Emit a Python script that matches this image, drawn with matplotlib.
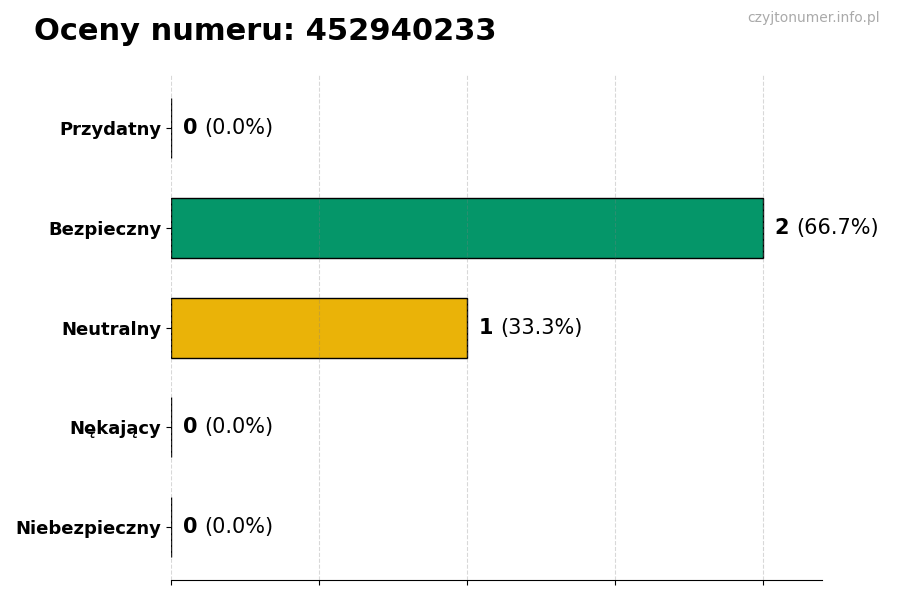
import matplotlib
matplotlib.use("Agg")
import matplotlib.pyplot as plt

# ratings of the number
categories = ["Przydatny", "Bezpieczny", "Neutralny", "Nękający", "Niebezpieczny"]
counts = [0, 2, 1, 0, 0]
colors = ["#3B82F6", "#059669", "#EAB308", "#F97316", "#DC2626"]
phone = "452940233"

total = sum(counts)
percents = [100.0 * c / total if total else 0.0 for c in counts]

fig = plt.figure(figsize=(9, 6), dpi=100)
ax = fig.add_axes([0.19, 0.033, 0.723, 0.842])

ypos = list(range(len(categories)))[::-1]
ax.barh(ypos, counts, height=0.6, color=colors, edgecolor="black", linewidth=1)

ax.set_yticks(ypos)
ax.set_yticklabels(categories, fontsize=13, fontweight="bold")
ax.set_xlim(0, 2.2)
ax.set_xticks([0, 0.5, 1, 1.5, 2])
ax.set_xticklabels([])
ax.set_axisbelow(False)
ax.grid(axis="x", linestyle="--", color="gray", alpha=0.3)

for s in ["top", "right", "left"]:
    ax.spines[s].set_visible(False)

# value labels: bold count + normal percentage
fig.canvas.draw()
renderer = fig.canvas.get_renderer()
for y, c, p in zip(ypos, counts, percents):
    t = ax.text(c + 0.04, y, str(c), fontsize=15, fontweight="bold",
                va="center", ha="left")
    bb = t.get_window_extent(renderer=renderer)
    x_disp = bb.x1 + 7
    x_data = ax.transData.inverted().transform((x_disp, 0))[0]
    ax.text(x_data, y, "(%.1f%%)" % p, fontsize=15, va="center", ha="left")

fig.text(0.038, 0.947, "Oceny numeru: " + phone, fontsize=22,
         fontweight="bold", va="center", ha="left")
fig.text(0.978, 0.970, "czyjtonumer.info.pl", fontsize=10, color="#aaaaaa",
         va="center", ha="right")

fig.savefig("out.png", dpi=100)
